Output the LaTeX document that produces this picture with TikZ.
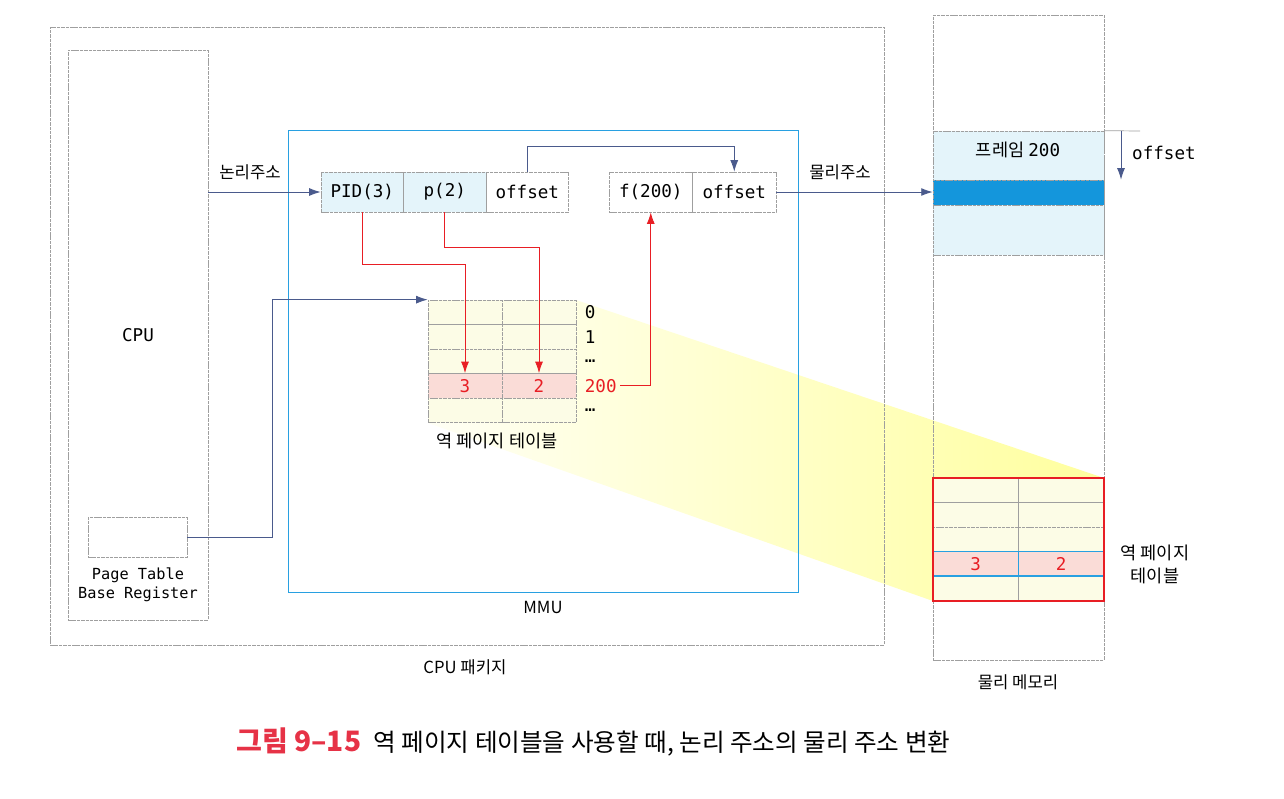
\documentclass[tikz,border=0pt]{standalone}
\usepackage{fontspec}
\setmainfont{Noto Sans CJK KR}
\setmonofont{DejaVu Sans Mono}
\usetikzlibrary{arrows,arrows.meta}

\definecolor{linkblue}{RGB}{74,90,140}
\definecolor{mmublue}{RGB}{40,160,225}
\definecolor{redline}{RGB}{232,30,36}
\definecolor{lightblue}{RGB}{228,244,250}
\definecolor{stripblue}{RGB}{20,150,220}
\definecolor{pinkfill}{RGB}{250,220,215}
\definecolor{cellyellow}{RGB}{252,252,230}
\definecolor{capred}{RGB}{230,50,70}

\begin{document}
\begin{tikzpicture}[x=0.02cm,y=-0.02cm,>={Latex[length=6.5pt,width=4.5pt]},
	box/.style={draw=gray!75,dash pattern=on 2pt off 0.5pt,thin,inner sep=0pt},
	addr/.style={box,minimum width=1.65cm,minimum height=0.8cm,font=\ttfamily\fontsize{10}{12}\selectfont},
	cell/.style={box,minimum height=0.49cm,font=\ttfamily\fontsize{10}{12}\selectfont},
	lbl/.style={font=\fontsize{9.5}{12}\selectfont,inner sep=1pt},
	link/.style={draw=linkblue,->,line width=0.5pt},
	red link/.style={draw=redline,->,line width=0.5pt}]
	\useasboundingbox (0,0) rectangle (1284,798);
	\shade[left color=yellow!4,right color=yellow!38] (576,300) -- (1104,478) -- (1104,601) -- (933,601) -- (428,423) -- cycle;
	\node[box,minimum width=16.68cm,minimum height=12.36cm] (pkg) at (467,336) {};
	\node[lbl] (pkglbl) at (465,667) {CPU 패키지};
	\node[box,minimum width=2.8cm,minimum height=11.4cm,font=\ttfamily\fontsize{10}{12}\selectfont] (cpu) at (138,335) {CPU};
	\node[box,minimum width=1.98cm,minimum height=0.8cm] (ptbr) at (137.5,537) {};
	\node[align=center,font=\ttfamily\fontsize{8.7}{11}\selectfont] (ptbrlbl) at (138,585) {Page Table\\Base Register};
	\node[draw=mmublue,thin,minimum width=10.2cm,minimum height=9.24cm] (mmu) at (543,361) {};
	\node[lbl] (mmulbl) at (543,607) {MMU};
	\node[addr,fill=lightblue] (pid) at (362.25,192) {PID(3)};
	\node[addr,fill=lightblue] (pg) at (444.75,192) {p(2)};
	\node[addr] (off) at (527.25,192) {offset};
	\node[addr,minimum width=1.67cm] (frm) at (650.75,192) {f(200)};
	\node[addr,minimum width=1.67cm] (off2) at (734.25,192) {offset};
	\node[lbl] (logical) at (250,172) {논리주소};
	\node[lbl] (physical) at (840,172) {물리주소};
	\foreach \r/\f/\p/\q in {0/cellyellow//,1/cellyellow//,2/cellyellow//,3/pinkfill/3/2,4/cellyellow//}{
		\node[cell,fill=\f,text=redline,minimum width=1.48cm] (a\r0) at (465,{312.25+24.5*\r}) {\p};
		\node[cell,fill=\f,text=redline,minimum width=1.48cm] (a\r1) at (539,{312.25+24.5*\r}) {\q};
	}
	\foreach \r/\t/\c in {0/0/black,1/1/black,2/…/black,3/200/redline,4/…/black}
		\node[anchor=west,inner sep=2pt,text=\c,font=\ttfamily\fontsize{10}{12}\selectfont] (l\r) at (581,{312.25+24.5*\r}) {\t};
	\node[lbl,font=\fontsize{10}{12}\selectfont] (iptlbl) at (497,441) {역 페이지 테이블};
	\node[box,minimum width=3.42cm,minimum height=12.9cm] (mem) at (1018.5,337.5) {};
	\node[lbl] (memlbl) at (1018,682) {물리 메모리};
	\node[box,fill=lightblue,minimum width=3.42cm,minimum height=2.48cm] (frame) at (1018.5,193) {};
	\node[box,fill=stripblue,minimum width=3.42cm,minimum height=0.5cm] (strip) at (1018.5,192.5) {};
	\node[lbl,font=\fontsize{10}{12}\selectfont] (framelbl) at (1018,150) {프레임 \texttt{200}};
	\foreach \r/\f in {0/cellyellow,1/cellyellow,2/cellyellow,3/pinkfill,4/cellyellow}{
		\node[cell,fill=\f,minimum width=1.71cm] (m\r0) at (975.75,{490.25+24.5*\r}) {};
		\node[cell,fill=\f,minimum width=1.71cm] (m\r1) at (1061.25,{490.25+24.5*\r}) {};
	}
	\node[cell,draw=mmublue,solid,line width=0.8pt,text=redline,minimum width=1.71cm] (mpid) at (m30) {3};
	\node[cell,draw=mmublue,solid,line width=0.8pt,text=redline,minimum width=1.71cm] (mpg) at (m31) {2};
	\draw[redline,line width=1.1pt] (m00.north west) rectangle (m41.south east);
	\node[lbl,align=center,font=\fontsize{10}{13}\selectfont] (memiptlbl) at (1155,564) {역 페이지\\테이블};
	\coordinate (otop) at (1140,131);
	\draw[gray!75,thin] (frame.north east) -- (otop);
	\draw[link] (frame.north east -| 1121,0) -- (strip.north -| 1121,0);
	\node[anchor=west,font=\ttfamily\fontsize{10}{12}\selectfont] (offlbl) at (1126,153) {offset};
	\draw[link] (cpu.east |- pid.west) -- (pid.west);
	\draw[link] (off.north) -- ++(0,-25) -| (off2.north);
	\draw[link] (off2.east) -- (off2.east -| strip.west);
	\draw[link] (ptbr.east) -- ++(85,0) |- (a00.north west);
	\draw[red link] (pid.south) -- ++(0,52) -| (a30.north);
	\draw[red link] (pg.south) -- ++(0,35) -| (a31.north);
	\draw[red link] (l3.east) -| (frm.south);
	\node[anchor=west,font=\fontsize{14}{16}\selectfont] (cap) at (230,742) {{\fontsize{16}{18}\selectfont\bfseries\color{capred}그림 9–15}\enspace 역 페이지 테이블을 사용할 때, 논리 주소의 물리 주소 변환};
\end{tikzpicture}
\end{document}
